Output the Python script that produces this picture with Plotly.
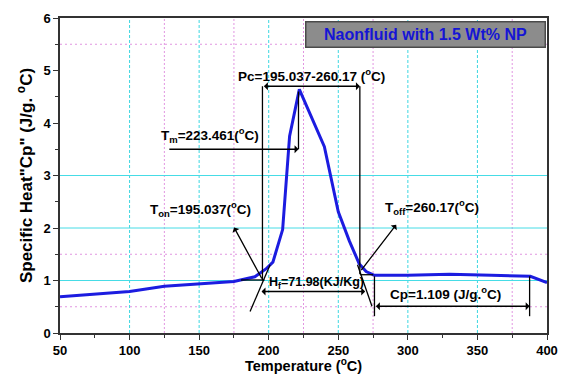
import plotly.graph_objects as go

# Data
temp = [50, 75, 100, 125, 150, 175, 190, 198, 203, 210, 215, 222, 240, 250, 258, 265, 270, 276, 300, 330, 360, 388, 400]
cp = [0.69, 0.74, 0.79, 0.89, 0.94, 0.98, 1.07, 1.22, 1.35, 1.97, 3.75, 4.64, 3.55, 2.31, 1.75, 1.32, 1.17, 1.10, 1.10, 1.12, 1.10, 1.08, 0.96]

x_ticks = [50, 100, 150, 200, 250, 300, 350, 400]
y_ticks = [0, 1, 2, 3, 4, 5, 6]
cyan_v = [100, 150, 200, 250, 300, 350]
mag_v = [125, 175, 225, 275, 375]
cyan_h = [1, 2, 3]
mag_h = [0.5, 1.5, 5.5]

title_text = "Naonfluid with 1.5 Wt% NP"
x_title = "Temperature (<sup>o</sup>C)"
y_title = "Specific Heat\"Cp\" (J/g. <sup>o</sup>C)"

FONT = "Liberation Sans, Arial, sans-serif"

fig = go.Figure()
fig.add_trace(go.Scatter(x=temp, y=cp, mode="lines",
                         line=dict(color="#1c1ce0", width=3), showlegend=False))

shapes = []
for v in cyan_v:
    shapes.append(dict(type="line", xref="x", yref="y", x0=v, x1=v, y0=0, y1=6, layer="below",
                       line=dict(color="rgb(60,215,225)", width=1, dash="3px,2px")))
for v in mag_v:
    shapes.append(dict(type="line", xref="x", yref="y", x0=v, x1=v, y0=0, y1=6, layer="below",
                       line=dict(color="rgb(225,150,225)", width=1, dash="2px,2px")))
for h in cyan_h:
    shapes.append(dict(type="line", xref="x", yref="y", x0=50, x1=400, y0=h, y1=h, layer="below",
                       line=dict(color="rgb(70,220,230)", width=1)))
for h in mag_h:
    shapes.append(dict(type="line", xref="x", yref="y", x0=50, x1=400, y0=h, y1=h, layer="below",
                       line=dict(color="rgb(225,150,225)", width=1, dash="2px,3px")))

blk = dict(color="black", width=1.3)
def seg(x0, y0, x1, y1):
    shapes.append(dict(type="line", xref="x", yref="y", x0=x0, y0=y0, x1=x1, y1=y1, line=blk))

# Pc bracket verticals
seg(195.5, 4.70, 195.5, 1.0)
seg(265.5, 4.70, 265.5, 1.12)
# Tm vertical from peak
seg(221.4, 4.60, 221.4, 3.50)
# Onset tangent & baseline
seg(186.6, 0.41, 201.0, 1.30)
seg(180.0, 1.01, 197.0, 1.01)
# Offset tangent & baseline
seg(263.8, 1.30, 274.2, 0.51)
seg(265.7, 1.11, 275.1, 1.11)
# Cp bracket verticals
seg(276.0, 1.08, 276.0, 0.32)
seg(387.5, 1.08, 387.5, 0.32)

annotations = []
def arrow(x0, y0, x1, y1):
    annotations.append(dict(x=x1, y=y1, ax=x0, ay=y0, xref="x", yref="y", axref="x", ayref="y",
                            text="", showarrow=True, arrowhead=1, arrowsize=1, arrowwidth=1.3,
                            arrowcolor="black"))
def darrow(x0, y0, x1, y1):
    annotations.append(dict(x=x1, y=y1, ax=x0, ay=y0, xref="x", yref="y", axref="x", ayref="y",
                            text="", showarrow=True, arrowhead=1, startarrowhead=1, arrowside="end+start",
                            arrowsize=1, arrowwidth=1.3, arrowcolor="black"))

darrow(195.5, 4.70, 265.5, 4.70)      # Pc
arrow(127.5, 3.50, 221.4, 3.50)       # Tm
arrow(195.6, 1.01, 175.1, 2.01)       # Ton
arrow(265.7, 1.17, 291.6, 2.06)       # Toff
darrow(193.8, 0.79, 269.3, 0.79)      # Hf
darrow(276.0, 0.51, 387.5, 0.51)      # Cp

def label(x, y, text, size=13.5):
    annotations.append(dict(x=x, y=y, xref="x", yref="y", text=text, showarrow=False,
                            xanchor="center", yanchor="middle",
                            font=dict(family=FONT, size=size, color="black", weight="bold")))

label(231.0, 4.91, "Pc=195.037-260.17 (<sup>o</sup>C)")
label(157.5, 3.77, "T<sub>m</sub>=223.461(<sup>o</sup>C)")
label(150.7, 2.37, "T<sub>on</sub>=195.037(<sup>o</sup>C)")
label(317.3, 2.40, "T<sub>off</sub>=260.17(<sup>o</sup>C)")
label(234.0, 0.95, "H<sub>f</sub>=71.98(KJ/Kg)", size=12.5)
label(326.9, 0.77, "Cp=1.109 (J/g.<sup>o</sup>C)")

# Title box
annotations.append(dict(x=0.7515, y=0.949, xref="paper", yref="paper", text=title_text, showarrow=False,
                        xanchor="center", yanchor="middle", width=236, height=22,
                        bgcolor="#8c8c8c", bordercolor="#4a4a4a", borderwidth=1.5, borderpad=1,
                        font=dict(family=FONT, size=16, color="#1515d5", weight="bold")))

# X-axis title placed below tick labels
annotations.append(dict(x=0.5, y=-0.1333, xref="paper", yref="paper", text=x_title, showarrow=False,
                        xanchor="center", yanchor="bottom", borderpad=0,
                        font=dict(family=FONT, size=14.5, color="black", weight="bold")))

fig.update_layout(
    width=565, height=376,
    margin=dict(l=60, r=18, t=18, b=43),
    paper_bgcolor="white", plot_bgcolor="white",
    shapes=shapes, annotations=annotations,
    font=dict(family=FONT, color="black"),
    xaxis=dict(range=[50, 400], tickvals=x_ticks, showgrid=False, zeroline=False, automargin=False,
               showline=True, linecolor="#333", linewidth=1.5, mirror=True,
               ticks="outside", ticklen=5, tickwidth=1.3, tickcolor="#333",
               minor=dict(dtick=25, tick0=50, ticks="outside", ticklen=3, tickcolor="#333"),
               tickfont=dict(family=FONT, size=13, color="black", weight="bold")),
    yaxis=dict(range=[0, 6], tickvals=y_ticks, showgrid=False, zeroline=False, automargin=False,
               showline=True, linecolor="#333", linewidth=1.5, mirror=True,
               ticks="outside", ticklen=5, tickwidth=1.3, tickcolor="#333",
               minor=dict(dtick=0.5, tick0=0, ticks="outside", ticklen=3, tickcolor="#333"),
               tickfont=dict(family=FONT, size=13, color="black", weight="bold"),
               title=dict(text=y_title, standoff=6,
                          font=dict(family=FONT, size=17, color="black", weight="bold"))),
)

fig.write_html("out.html")
